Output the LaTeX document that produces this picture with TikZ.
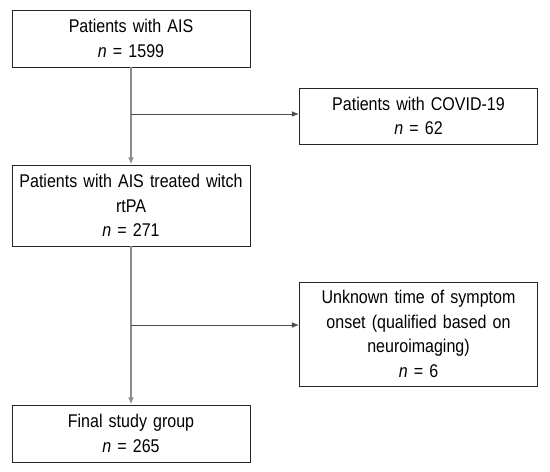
\documentclass[tikz,border=0pt]{standalone}
\usepackage{fontspec}
\setmainfont[FakeStretch=0.87]{Liberation Sans}
\usetikzlibrary{positioning,arrows.meta}
\begin{document}
\begin{tikzpicture}[
        box/.style={draw=black!85, line width=0.7pt, minimum width=5.95cm, text width=5.6cm, align=center, font=\fontsize{13.1}{17.6}\selectfont},
        arrow/.style={->, >={Latex[length=5pt,width=4pt]}, line width=0.6pt},
        trunk/.style={draw=black!45, line width=1pt},
        branch/.style={draw=black!70, line width=0.6pt}
    ]
        \useasboundingbox (0,0) rectangle (13.75,-11.775);

        % Main flow
        \node[box, minimum height=1.425cm] (ais) at (3.275,-0.9625) {Patients with AIS\\ \textit{n} = 1599};
        \node[box, minimum height=2.025cm] (rtpa) at (3.275,-5.1375) {Patients with AIS treated witch\\ rtPA\\ \textit{n} = 271};
        \node[box, minimum height=1.425cm] (final) at (3.275,-10.8375) {Final study group\\ \textit{n} = 265};

        % Excluded patients
        \node[box, minimum height=1.4cm] (covid) at (10.4625,-2.9) {Patients with COVID-19\\ \textit{n} = 62};
        \node[box, minimum height=2.6cm] (unknown) at (10.4625,-8.35) {Unknown time of symptom\\ onset (qualified based on\\ neuroimaging)\\ \textit{n} = 6};

        % Split points
        \coordinate (fork1) at (3.275,-2.85);
        \coordinate (fork2) at (3.275,-8.125);

        % Connections
        \draw[arrow, trunk] (ais) -- (rtpa);
        \draw[arrow, trunk] (rtpa) -- (final);
        \draw[arrow, branch] (fork1) -- (fork1 -| covid.west);
        \draw[arrow, branch] (fork2) -- (fork2 -| unknown.west);
    \end{tikzpicture}
\end{document}
